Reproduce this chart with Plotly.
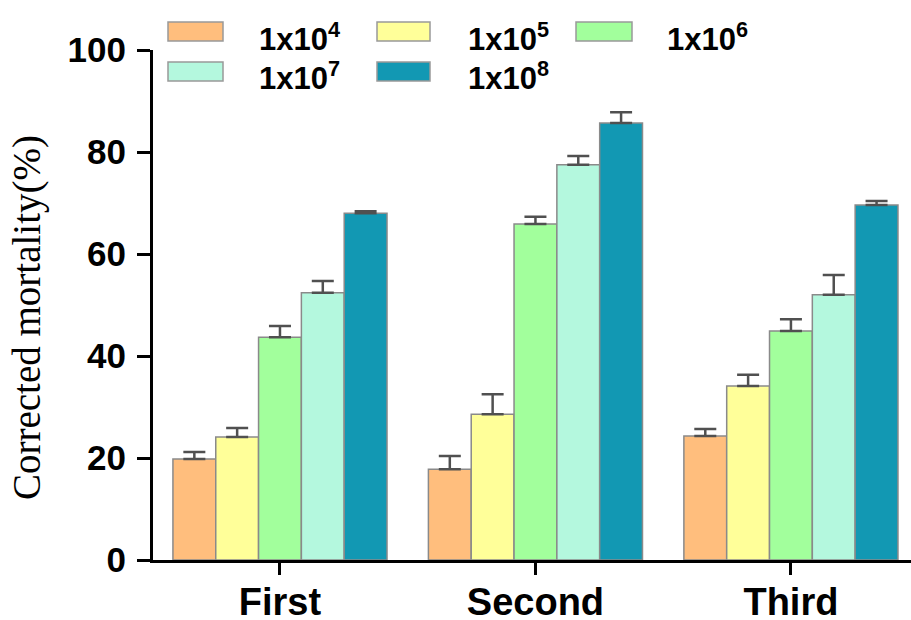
import plotly.graph_objects as go

groups = ["First", "Second", "Third"]
series_names = ["1x10<sup>4</sup>", "1x10<sup>5</sup>", "1x10<sup>6</sup>", "1x10<sup>7</sup>", "1x10<sup>8</sup>"]
colors = ["#FFBE7D", "#FFFF99", "#A2FF9C", "#B4F8DE", "#1298B3"]

conc_1e4 = [19.8, 17.8, 24.3]
conc_1e5 = [24.1, 28.6, 34.1]
conc_1e6 = [43.7, 65.9, 44.9]
conc_1e7 = [52.4, 77.5, 52.0]
conc_1e8 = [68.0, 85.7, 69.6]

err_1e4 = [1.4, 2.6, 1.4]
err_1e5 = [1.8, 3.9, 2.2]
err_1e6 = [2.2, 1.4, 2.3]
err_1e7 = [2.3, 1.7, 3.9]
err_1e8 = [0.4, 2.1, 0.8]

y_ticks = [0, 20, 40, 60, 80, 100]

values = [conc_1e4, conc_1e5, conc_1e6, conc_1e7, conc_1e8]
errors = [err_1e4, err_1e5, err_1e6, err_1e7, err_1e8]

W, H = 911, 620
L, R, T, B = 153, 0, 50, 60
pw, ph = W - L - R, H - T - B

def px(x):
    return (x - L) / pw

def py(y):
    return (H - B - y) / ph

fig = go.Figure()
for name, col, vals, errs in zip(series_names, colors, values, errors):
    fig.add_trace(go.Bar(
        x=groups, y=vals, name=name,
        marker=dict(color=col, line=dict(color="#8a8a8a", width=1.5)),
        error_y=dict(type="data", array=errs, arrayminus=[0] * len(errs), symmetric=False,
                     color="#505050", thickness=2.5, width=11),
        showlegend=False,
    ))

# manual legend
sw_cols = [(168, 223, 257), (377, 430, 466), (576, 632, 665)]
sw_rows = [(22, 41, 37), (62, 81, 76)]
for i, (name, col) in enumerate(zip(series_names, colors)):
    r, c = divmod(i, 3)
    x0, x1, tx = sw_cols[c]
    y0, y1, ty = sw_rows[r]
    fig.add_shape(type="rect", xref="paper", yref="paper",
                  x0=px(x0), x1=px(x1), y0=py(y1), y1=py(y0),
                  fillcolor=col, line=dict(color="#999999", width=1.5))
    fig.add_annotation(xref="paper", yref="paper", x=px(tx), y=py(ty),
                       xanchor="left", yanchor="middle", showarrow=False,
                       text="<b>" + name + "</b>",
                       font=dict(family="Liberation Sans, Arial", size=31, color="black"))

# y-axis title
fig.add_annotation(xref="paper", yref="paper", x=px(27), y=py(318),
                   xanchor="center", yanchor="middle", showarrow=False, textangle=-90,
                   text="Corrected mortality(%)",
                   font=dict(family="Liberation Serif, Times New Roman", size=39, color="black"))

fig.update_layout(
    width=W, height=H,
    margin=dict(l=L, r=R, t=T, b=B, autoexpand=False),
    template="none",
    plot_bgcolor="white", paper_bgcolor="white",
    barmode="group", bargap=0.162, bargroupgap=0,
    showlegend=False,
    font=dict(family="Liberation Sans, Arial", color="black"),
)
fig.update_xaxes(
    type="category", range=[-0.497, 2.47],
    showline=True, linecolor="black", linewidth=3,
    ticks="outside", ticklen=12, tickwidth=3, tickcolor="black",
    tickfont=dict(family="Liberation Sans, Arial", size=38, color="black", weight="bold"),
    ticklabelstandoff=-6,
    showgrid=False, zeroline=False, automargin=False,
)
fig.update_yaxes(
    range=[0, 100], tickvals=y_ticks, ticktext=[str(v) for v in y_ticks],
    showline=True, linecolor="black", linewidth=3,
    ticks="outside", ticklen=13, tickwidth=3, tickcolor="black",
    tickfont=dict(family="Liberation Sans, Arial", size=35, color="black", weight="bold"),
    ticklabelstandoff=4,
    showgrid=False, zeroline=False, automargin=False,
)

fig.write_html("out.html", config={"displayModeBar": False},
               post_script="document.body.style.margin='0';document.body.style.overflow='hidden';")
